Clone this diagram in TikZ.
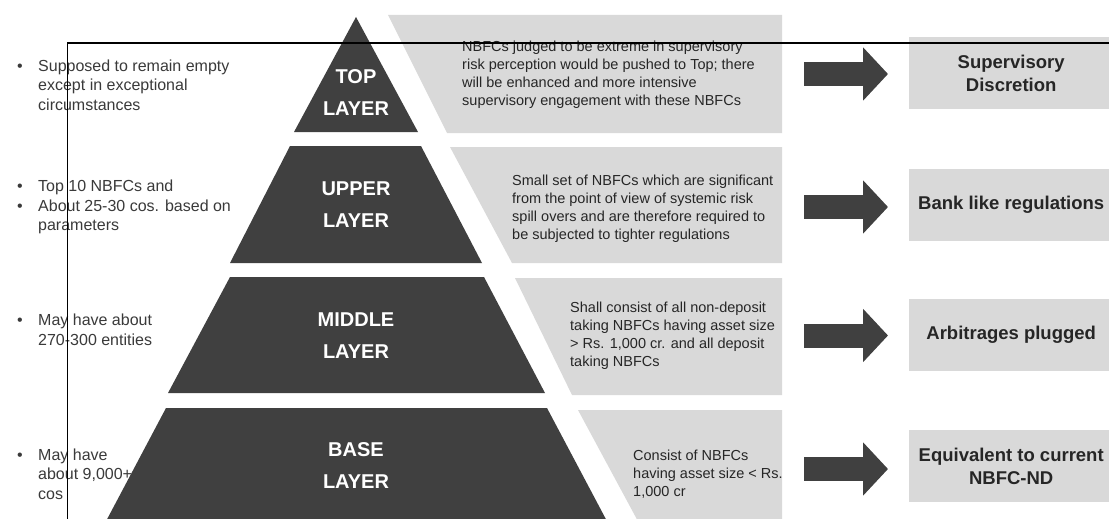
\documentclass[tikz,border=0pt]{standalone}
\usepackage{fontspec}
\setmainfont{Liberation Sans}
\usepackage{tikz}
\usetikzlibrary{arrows.meta}
\definecolor{pyrdark}{HTML}{404040}
\definecolor{panelgray}{HTML}{D9D9D9}
\definecolor{notetext}{HTML}{3A3A3A}
\tikzset{layer/.style={fill=pyrdark},
panel/.style={fill=panelgray},
layerlabel/.style={text=white,font=\fontsize{20}{32}\selectfont\bfseries,align=center,inner sep=0pt},
sidenote/.style={anchor=west,text=notetext,font=\fontsize{16}{19.5}\selectfont,align=left,inner sep=0pt},
paneltext/.style={anchor=west,text=black!85,font=\fontsize{14.5}{18}\selectfont,align=left,inner sep=0pt},
outcome/.style={fill=panelgray,anchor=west,minimum width=204pt,minimum height=72pt,inner sep=0pt,align=center,font=\fontsize{18.5}{23}\selectfont\bfseries,text=black!85},
blockarrow/.style={draw=pyrdark,line width=24pt,-{Triangle[length=25pt,width=52pt]},shorten >=21pt}}
\newcommand\bul{\makebox[21pt][l]{\textbullet}}
\newcommand\ind{\hspace*{21pt}}

\begin{document}
\begin{tikzpicture}[x=1pt,y=-1pt]
\clip (0,0) rectangle (1109,519);
\fill[white] (0,0) rectangle (1109,519);
\fill[layer] (356,17) -- (418,132) -- (294,132) -- cycle;
\fill[layer] (290,146) -- (421,146) -- (482,263) -- (230,263) -- cycle;
\fill[layer] (230,277) -- (484,277) -- (545,393) -- (168,393) -- cycle;
\fill[layer] (166,408) -- (547,408) -- (609,525) -- (104,525) -- cycle;
\fill[panel] (388,15) -- (782,15) -- (782,133) -- (447,133) -- cycle;
\fill[panel] (450,147) -- (782,147) -- (782,263) -- (512,263) -- cycle;
\fill[panel] (515,278) -- (782,278) -- (782,395) -- (572,395) -- cycle;
\fill[panel] (578,410) -- (782,410) -- (782,525) -- (640,525) -- cycle;
\node[layerlabel] (toplabel) at (356,92.5) {TOP\\LAYER};
\node[layerlabel] (upperlabel) at (356,204.5) {UPPER\\LAYER};
\node[layerlabel] (middlelabel) at (356,336) {MIDDLE\\LAYER};
\node[layerlabel] (baselabel) at (356,466) {BASE\\LAYER};
\node[paneltext] (topnote) at (462,75) {NBFCs judged to be extreme in supervisory\\risk perception would be pushed to Top; there\\will be enhanced and more intensive\\supervisory engagement with these NBFCs};
\node[paneltext] (uppernote) at (512,208.5) {Small set of NBFCs which are significant\\from the point of view of systemic risk\\spill overs and are therefore required to\\be subjected to tighter regulations};
\node[paneltext] (middlenote) at (570,336) {Shall consist of all non-deposit\\taking NBFCs having asset size\\> Rs. 1,000 cr. and all deposit\\taking NBFCs};
\node[paneltext] (basenote) at (633,474) {Consist of NBFCs\\having asset size < Rs.\\1,000 cr};
\node[sidenote] (topside) at (17,85) {\bul Supposed to remain empty\\\ind except in exceptional\\\ind circumstances};
\node[sidenote] (upperside) at (17,207) {\bul Top 10 NBFCs and\\\bul About 25-30 cos. based on\\\ind parameters};
\node[sidenote] (middleside) at (17,330) {\bul May have about\\\ind 270-300 entities};
\node[sidenote] (baseside) at (17,474) {\bul May have\\\ind about 9,000+\\\ind cos};
\node[outcome] (outtop) at (909,73) {Supervisory\\Discretion};
\node[outcome] (outupper) at (909,205) {Bank like regulations};
\node[outcome] (outmiddle) at (909,335) {Arbitrages plugged};
\node[outcome] (outbase) at (909,466) {Equivalent to current\\NBFC-ND};
\foreach \n/\y in {top/74,upper/207,middle/335.5,base/469}{
\coordinate (tail\n) at (804,\y);
\draw[blockarrow] (tail\n) -- (tail\n -| out\n.west);
}
\draw[line width=1.6pt] (67.5,43) rectangle (1120,530);
\end{tikzpicture}
\end{document}
